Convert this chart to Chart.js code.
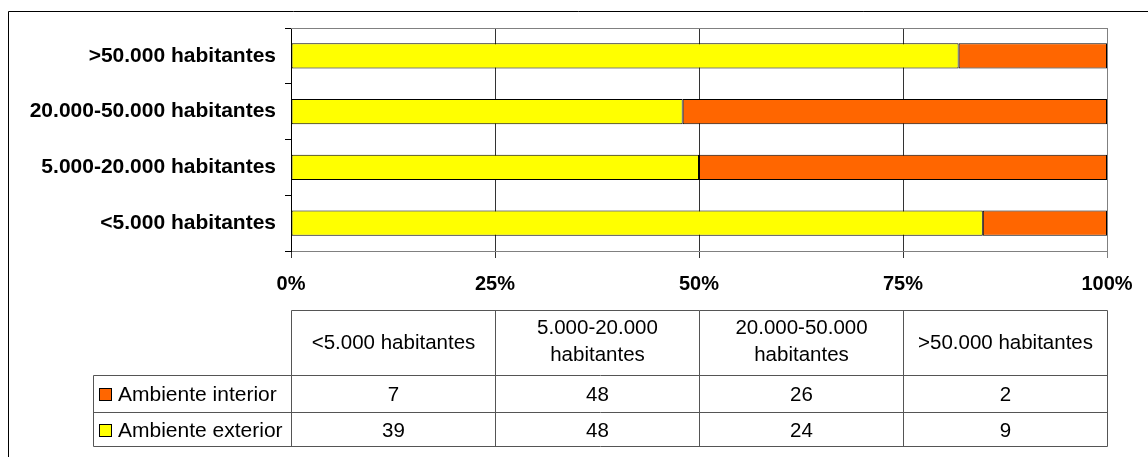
<!DOCTYPE html>
<html>
<head>
<meta charset="utf-8">
<script src="https://cdn.jsdelivr.net/npm/chart.js@4/dist/chart.umd.min.js"></script>
<style>
  body { margin: 0; background: #fff; }
  #wrap { width: 1148px; height: 457px; }
</style>
</head>
<body>
<div id="wrap"><canvas id="myChart" width="1148" height="457"></canvas></div>
<script>
// Datos
const categorias = ['<5.000 habitantes', '5.000-20.000 habitantes', '20.000-50.000 habitantes', '>50.000 habitantes'];
const cabeceraTabla = [['<5.000 habitantes'], ['5.000-20.000', 'habitantes'], ['20.000-50.000', 'habitantes'], ['>50.000 habitantes']];
const interior = [7, 48, 26, 2];
const exterior = [39, 48, 24, 9];
const ticksX = [0, 25, 50, 75, 100];

const series = [
    { nombre: 'Ambiente interior', valores: interior, color: '#FF6600' },
    { nombre: 'Ambiente exterior', valores: exterior, color: '#FFFF00' }
];

// porcentajes para el 100% apilado
const totales = categorias.map((c, i) => interior[i] + exterior[i]);
const pct = arr => arr.map((v, i) => v / totales[i] * 100);

Chart.defaults.font.family = '"Liberation Sans", Arial, sans-serif';
Chart.defaults.color = '#000';

// marco, borde superior del área y tabla de datos
const tablaPlugin = {
    id: 'tabla',
    afterDraw(chart) {
        const c = chart.ctx;
        const area = chart.chartArea;
        const x = chart.scales.x;
        c.save();
        // marco exterior
        c.strokeStyle = '#000';
        c.lineWidth = 1;
        c.beginPath();
        c.moveTo(8.5, 460);
        c.lineTo(8.5, 11.5);
        c.lineTo(1150, 11.5);
        c.stroke();
        // linea superior del área
        c.strokeStyle = '#808080';
        c.beginPath();
        c.moveTo(area.left, area.top + 0.5);
        c.lineTo(area.right, area.top + 0.5);
        c.stroke();

        // tabla
        const cols = ticksX.map(v => Math.round(x.getPixelForValue(v)) + 0.5);
        const yCab = 310.5, yF1 = 375.5, yF2 = 412.5, yFin = 446.5, xLey = 93.5;
        c.strokeStyle = '#555';
        c.beginPath();
        c.moveTo(cols[0], yCab); c.lineTo(cols[4], yCab);
        c.moveTo(xLey, yF1); c.lineTo(cols[4], yF1);
        c.moveTo(xLey, yF2); c.lineTo(cols[4], yF2);
        c.moveTo(xLey, yFin); c.lineTo(cols[4], yFin);
        c.moveTo(xLey, yF1); c.lineTo(xLey, yFin);
        cols.forEach(cx => { c.moveTo(cx, yCab); c.lineTo(cx, yFin); });
        c.stroke();

        c.fillStyle = '#000';
        c.font = '20.5px "Liberation Sans", Arial, sans-serif';
        c.textAlign = 'center';
        c.textBaseline = 'middle';
        cabeceraTabla.forEach((lineas, i) => {
            const cx = (cols[i] + cols[i + 1]) / 2;
            if (lineas.length === 1) {
                c.fillText(lineas[0], cx, 343);
            } else {
                c.fillText(lineas[0], cx, 328);
                c.fillText(lineas[1], cx, 355);
            }
        });
        const filasY = [395, 431];
        series.forEach((s, r) => {
            const cy = filasY[r];
            s.valores.forEach((v, i) => {
                c.textAlign = 'center';
                c.fillText(String(v), (cols[i] + cols[i + 1]) / 2, cy);
            });
            c.fillStyle = s.color;
            c.fillRect(99.5, cy - 6.5, 12, 12);
            c.strokeStyle = '#000';
            c.strokeRect(99.5, cy - 6.5, 12, 12);
            c.fillStyle = '#000';
            c.textAlign = 'left';
            c.font = '21px "Liberation Sans", Arial, sans-serif';
            c.fillText(s.nombre, 118, cy);
            c.font = '20.5px "Liberation Sans", Arial, sans-serif';
        });
        c.restore();
    }
};

const ctx = document.getElementById('myChart').getContext('2d');

new Chart(ctx, {
    type: 'bar',
    data: {
        labels: categorias,
        datasets: [
            { label: 'Ambiente exterior', data: pct(exterior), backgroundColor: '#FFFF00' },
            { label: 'Ambiente interior', data: pct(interior), backgroundColor: '#FF6600' }
        ]
    },
    options: {
        indexAxis: 'y',
        responsive: false,
        animation: false,
        layout: { padding: { left: 0, top: 28, right: 41, bottom: 157 } },
        datasets: {
            bar: {
                borderColor: '#000',
                borderWidth: 1,
                borderSkipped: false,
                barPercentage: 0.45,
                categoryPercentage: 1
            }
        },
        scales: {
            x: {
                stacked: true,
                min: 0,
                max: 100,
                afterBuildTicks: s => { s.ticks = ticksX.map(v => ({ value: v })); },
                afterFit: s => { s.height = 49; },
                ticks: {
                    callback: v => v + '%',
                    font: { size: 20, weight: 'bold' },
                    color: '#000',
                    padding: 14,
                    maxRotation: 0
                },
                grid: {
                    color: g => (g.tick && g.tick.value === 100) ? '#808080' : '#333',
                    tickLength: 7
                },
                border: { color: '#808080' }
            },
            y: {
                stacked: true,
                reverse: true,
                afterFit: s => { s.width = 291; },
                ticks: {
                    font: { size: 21, weight: 'bold' },
                    color: '#000',
                    padding: 9
                },
                grid: {
                    offset: true,
                    drawOnChartArea: false,
                    tickLength: 6,
                    color: '#000'
                },
                border: { color: '#000' }
            }
        },
        plugins: {
            legend: { display: false },
            tooltip: { enabled: false },
            title: { display: false }
        }
    },
    plugins: [tablaPlugin]
});
</script>
</body>
</html>
